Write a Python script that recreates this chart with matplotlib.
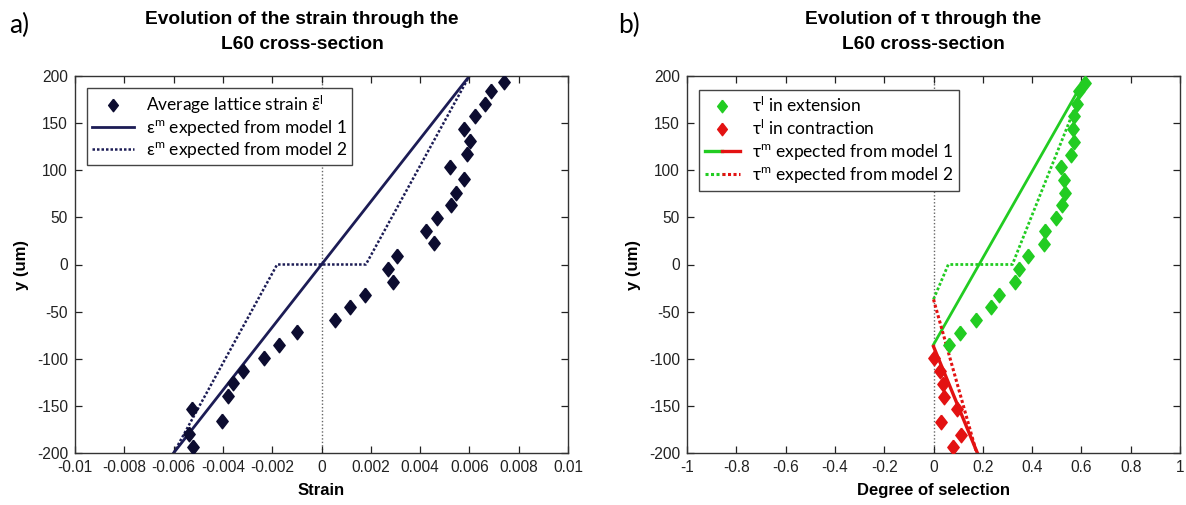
import matplotlib
matplotlib.use("Agg")
import matplotlib.pyplot as plt
from matplotlib.lines import Line2D
from matplotlib.legend_handler import HandlerTuple

plt.rcParams['font.family'] = ['Liberation Sans', 'DejaVu Sans']
plt.rcParams['mathtext.fontset'] = 'custom'
plt.rcParams['mathtext.rm'] = 'Lato'
plt.rcParams['mathtext.it'] = 'Lato'
plt.rcParams['axes.unicode_minus'] = False

# --- panel a: average lattice strain through the cross-section
strain_x = [0.00739, 0.00689, 0.00662, 0.00622, 0.00578, 0.00604, 0.00591, 0.00523,
            0.00577, 0.00545, 0.00527, 0.0047, 0.00423, 0.00457, 0.00308, 0.0027,
            0.00291, 0.00176, 0.00115, 0.00054, -0.00101, -0.00173, -0.00234, -0.0032,
            -0.00361, -0.00378, -0.00524, -0.00403, -0.00537, -0.00523]
strain_y = [193.6, 184, 170.6, 157.5, 144, 130.6, 116.8, 103.4,
            90.3, 76.1, 62.7, 49.6, 35.8, 22.3, 8.9, -4.6,
            -18.1, -31.9, -45, -58.4, -71.9, -85.3, -99.5, -112.6,
            -125.7, -139.8, -153.3, -166.4, -179.8, -193.6]

# expected strain, model 1 and model 2
m1_x = [-0.006, 0.006]
m1_y = [-200, 200]
m2_x = [-0.006, -0.0018, 0.0018, 0.006]
m2_y = [-200, 0, 0, 200]

# --- panel b: degree of selection tau
ext_x = [0.613, 0.59, 0.581, 0.569, 0.565, 0.572, 0.558, 0.519, 0.530, 0.533, 0.523,
         0.495, 0.454, 0.447, 0.385, 0.346, 0.332, 0.267, 0.232, 0.173, 0.108, 0.062]
ext_y = [193, 183.9, 170, 157.5, 143.5, 129.7, 116.4, 103, 89.7, 76, 62.6,
         48.9, 35.5, 22.2, 8.8, -4.6, -18.3, -32.3, -45.4, -58.7, -72.4, -85.1]
con_x = [0.0, 0.025, 0.037, 0.041, 0.097, 0.03, 0.111, 0.08]
con_y = [-99.5, -113, -126.5, -140.5, -153.5, -167.5, -180.5, -194]

t1g_x = [0, 0.62]
t1g_y = [-85, 200]
t1r_x = [0, 0.178]
t1r_y = [-87, -200]
t2g_x = [0, 0.06, 0.32, 0.625]
t2g_y = [-37, 0, 0, 200]
t2r_x = [0, 0.175]
t2r_y = [-37, -200]

yticks = [-200, -150, -100, -50, 0, 50, 100, 150, 200]
ytick_labels = ['-200', '-150', '-100', '-50', '0', '50', '100', '150', '200']
a_xticks = [-0.01, -0.008, -0.006, -0.004, -0.002, 0, 0.002, 0.004, 0.006, 0.008, 0.01]
a_xtick_labels = ['-0.01', '-0.008', '-0.006', '-0.004', '-0.002', '0',
                  '0.002', '0.004', '0.006', '0.008', '0.01']
b_xticks = [-1, -0.8, -0.6, -0.4, -0.2, 0, 0.2, 0.4, 0.6, 0.8, 1]
b_xtick_labels = ['-1', '-0.8', '-0.6', '-0.4', '-0.2', '0', '0.2', '0.4', '0.6', '0.8', '1']

labels_a = [r'Average lattice strain $\bar{\mathrm{ε}}^{\mathrm{l}}$',
            r'ε$^{\mathrm{m}}$ expected from model 1',
            r'ε$^{\mathrm{m}}$ expected from model 2']
labels_b = [r'τ$^{\mathrm{l}}$ in extension',
            r'τ$^{\mathrm{l}}$ in contraction',
            r'τ$^{\mathrm{m}}$ expected from model 1',
            r'τ$^{\mathrm{m}}$ expected from model 2']

navy = '#0c0c30'
navy_line = '#1c1c55'
green = '#22cc22'
red = '#e31212'
diamond = [(0, 1), (0.78, 0), (0, -1), (-0.78, 0), (0, 1)]
dots = (0, (1, 0.8))
leg_font = {'family': ['Lato', 'DejaVu Sans'], 'size': 12.5}

fig = plt.figure(figsize=(11.86, 5.05), dpi=100)
W, H = 1186, 505
ax1 = fig.add_axes([75 / W, 52 / H, 493 / W, 377 / H])
ax2 = fig.add_axes([687 / W, 52 / H, 493 / W, 377 / H])


def style_axis(ax, xticks, xlabels, xlabel):
    ax.set_ylim(-200, 200)
    ax.set_xticks(xticks)
    ax.set_xticklabels(xlabels)
    ax.set_yticks(yticks)
    ax.set_yticklabels(ytick_labels)
    ax.set_xlim(xticks[0], xticks[-1])
    ax.tick_params(direction='in', top=True, right=True, length=5, width=0.9,
                   labelsize=11.2, pad=5, colors='#222222')
    for s in ax.spines.values():
        s.set_linewidth(1.0)
        s.set_color('#333333')
    ax.set_xlabel(xlabel, fontsize=12, fontweight='bold', labelpad=6)
    ax.set_ylabel('y (um)', fontsize=12, fontweight='bold', labelpad=6)
    ax.axvline(0, color='#666666', lw=1.0, ls=(0, (1, 1.5)), zorder=1)


style_axis(ax1, a_xticks, a_xtick_labels, 'Strain')
style_axis(ax2, b_xticks, b_xtick_labels, 'Degree of selection')

# panel a
ax1.plot(m1_x, m1_y, color=navy_line, lw=2.0, zorder=2)
ax1.plot(m2_x, m2_y, color=navy_line, lw=1.8, ls=dots, zorder=2)
ax1.plot(strain_x, strain_y, ls='none', marker=diamond, ms=10.5, color=navy, zorder=3)

h_pts = Line2D([], [], ls='none', marker=diamond, ms=9, color=navy)
h_m1 = Line2D([], [], color=navy_line, lw=2.0)
h_m2 = Line2D([], [], color=navy_line, lw=1.8, ls=dots)
leg1 = ax1.legend([h_pts, h_m1, h_m2], labels_a,
                  loc='upper left', bbox_to_anchor=(0.024, 0.968), borderaxespad=0,
                  prop=leg_font, handlelength=2.4, handletextpad=0.7, labelspacing=0.12,
                  borderpad=0.3, fancybox=False, framealpha=1, edgecolor='#444444')
leg1.get_frame().set_linewidth(1.0)

# panel b
ax2.plot(t1g_x, t1g_y, color=green, lw=2.0, zorder=2)
ax2.plot(t1r_x, t1r_y, color=red, lw=2.4, zorder=2)
ax2.plot(t2g_x, t2g_y, color=green, lw=2.0, ls=dots, zorder=2)
ax2.plot(t2r_x, t2r_y, color=red, lw=2.2, ls=dots, zorder=2)
ax2.plot(ext_x, ext_y, ls='none', marker=diamond, ms=10.5, color=green, zorder=3)
ax2.plot(con_x, con_y, ls='none', marker=diamond, ms=10.5, color=red, zorder=3)

h_ext = Line2D([], [], ls='none', marker=diamond, ms=9, color=green)
h_con = Line2D([], [], ls='none', marker=diamond, ms=9, color=red)
h_g1 = Line2D([], [], color=green, lw=2.4)
h_r1 = Line2D([], [], color=red, lw=2.4)
h_g2 = Line2D([], [], color=green, lw=2.2, ls=dots)
h_r2 = Line2D([], [], color=red, lw=2.2, ls=dots)
leg2 = ax2.legend([h_ext, h_con, (h_g1, h_r1), (h_g2, h_r2)], labels_b,
                  handler_map={tuple: HandlerTuple(ndivide=None, pad=0)},
                  loc='upper left', bbox_to_anchor=(0.024, 0.963), borderaxespad=0,
                  prop=leg_font, handlelength=2.0, handletextpad=0.7, labelspacing=0.2,
                  borderpad=0.35, fancybox=False, framealpha=1, edgecolor='#444444')
leg2.get_frame().set_linewidth(1.0)

# titles and panel letters
fig.text(302 / W, 1 - 32 / H, 'Evolution of the strain through the\nL60 cross-section',
         ha='center', va='center', fontsize=13.8, fontweight='bold', linespacing=1.6)
fig.text(923 / W, 1 - 32 / H, 'Evolution of τ through the\nL60 cross-section',
         ha='center', va='center', fontsize=13.8, fontweight='bold', linespacing=1.6)
fig.text(9 / W, 1 - 25 / H, 'a)', ha='left', va='center', fontsize=19,
         family=['Lato', 'DejaVu Sans'])
fig.text(618 / W, 1 - 25 / H, 'b)', ha='left', va='center', fontsize=19,
         family=['Lato', 'DejaVu Sans'])

fig.savefig('out.png', dpi=100)
